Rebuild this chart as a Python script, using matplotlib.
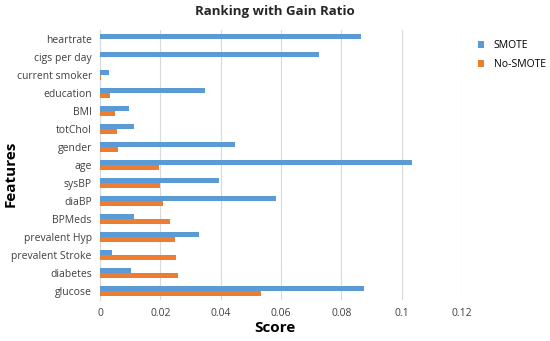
import matplotlib
matplotlib.use("Agg")
import matplotlib.pyplot as plt
import numpy as np

plt.rcParams['font.family'] = ['Open Sans', 'DejaVu Sans']

features = ["heartrate", "cigs per day", "current smoker", "education", "BMI", "totChol",
            "gender", "age", "sysBP", "diaBP", "BPMeds", "prevalent Hyp",
            "prevalent Stroke", "diabetes", "glucose"]
smote = [0.0864, 0.0726, 0.0029, 0.0349, 0.0096, 0.0111, 0.0448, 0.1034, 0.0394, 0.0582,
         0.0113, 0.0329, 0.0041, 0.0103, 0.0876]
no_smote = [0.0, 0.0, 0.0004, 0.0033, 0.0050, 0.0056, 0.0061, 0.0194, 0.0200, 0.0210,
            0.0233, 0.0247, 0.0252, 0.0258, 0.0533]
xticks = [0, 0.02, 0.04, 0.06, 0.08, 0.1, 0.12]
xticklabels = ["0", "0.02", "0.04", "0.06", "0.08", "0.1", "0.12"]

fig = plt.figure(figsize=(5.5, 3.41), dpi=100)
ax = fig.add_axes([0.182, 0.12, 0.658, 0.792])

n = len(features)
y = np.arange(n)[::-1]
h = 0.29
ax.barh(y + h / 2, smote, height=h, color="#5B9BD5", label="SMOTE", zorder=3)
ax.barh(y - h / 2, no_smote, height=h, color="#ED7D31", label="No-SMOTE", zorder=3)

ax.set_ylim(-0.5, n - 0.5)
ax.set_xlim(0, 0.12)
ax.set_yticks(y)
ax.set_yticklabels(features, fontsize=7.5, color="#404040")
ax.set_xticks(xticks)
ax.set_xticklabels(xticklabels, fontsize=7.5, color="#404040")
ax.tick_params(length=0, pad=6)
ax.xaxis.grid(True, color="#D9D9D9", linewidth=0.8, zorder=0)
for s in ["top", "right", "bottom"]:
    ax.spines[s].set_visible(False)
ax.spines["left"].set_color("#D9D9D9")
ax.spines["left"].set_linewidth(0.8)

fig.text(0.5, 0.965, "Ranking with Gain Ratio", ha="center", va="center",
         fontsize=9.5, fontweight="bold", color="#262626")
fig.text(0.5, 0.038, "Score", ha="center", va="center",
         fontsize=11, fontweight="bold", color="black")
fig.text(0.02, 0.49, "Features", ha="center", va="center", rotation=90,
         fontsize=11, fontweight="bold", color="black")

fig.legend(loc="upper left", bbox_to_anchor=(0.869, 0.882), frameon=False, fontsize=7.5,
           handlelength=0.6, handleheight=0.6, labelspacing=0.75, handletextpad=0.9,
           borderaxespad=0, borderpad=0)

fig.savefig("out.png", dpi=100)
